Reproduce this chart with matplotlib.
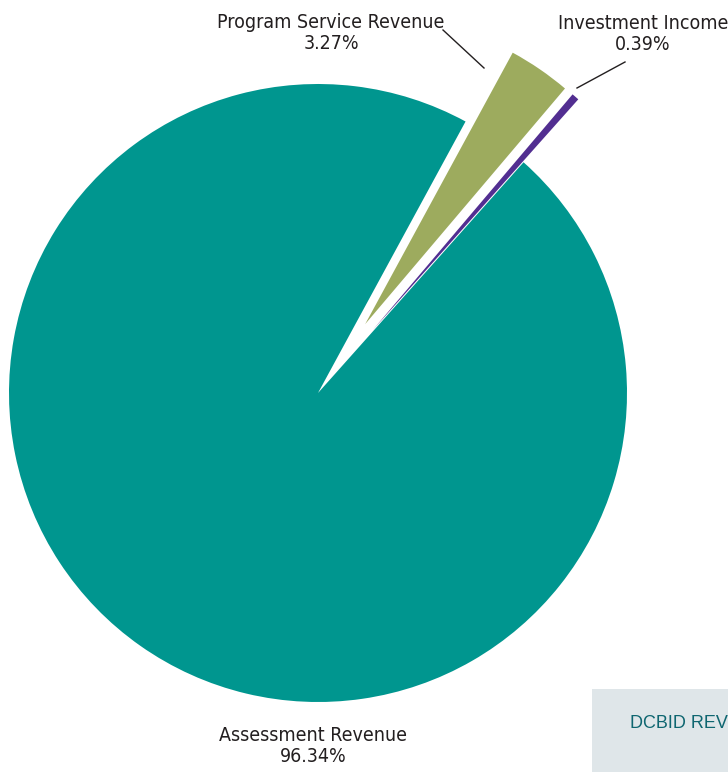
import matplotlib
matplotlib.use("Agg")
import matplotlib.pyplot as plt
from matplotlib.patches import Rectangle

# revenue shares (percent)
categories = ["Assessment Revenue", "Program Service Revenue", "Investment Income"]
shares = [96.34, 3.27, 0.39]
share_labels = ["96.34%", "3.27%", "0.39%"]
colors = ["#00968f", "#9dab5e", "#522e91"]

W, H = 728, 772
fig = plt.figure(figsize=(W / 100, H / 100), dpi=100)
ax = fig.add_axes([0, 0, 1, 1])

cx, cy, r = 318, H - 393, 309
# explode is in data units here (pixels)
explode = [0, 0.27 * r, 0.27 * r]
ax.pie(shares, colors=colors, explode=explode, startangle=48.3,
       counterclock=False, center=(cx, cy), radius=r, frame=True,
       wedgeprops=dict(linewidth=0))
ax.set_xlim(0, W)
ax.set_ylim(0, H)
ax.axis("off")

txt = "#231f20"
# label positions in pixels (x, y from top)
label_pos = [(313, 746), (331, 33), (643, 34)]
for name, pct, (lx, ly) in zip(categories, share_labels, label_pos):
    ax.text(lx, H - ly, name + "\n" + pct, ha="center", va="center",
            fontsize=14, family="DejaVu Sans", fontstretch="condensed",
            color=txt, linespacing=1.15)

# leader lines
ax.plot([443, 484], [H - 30, H - 68], color=txt, lw=1)
ax.plot([625, 577], [H - 62, H - 88], color=txt, lw=1)

# cut-off caption box at bottom right
ax.add_patch(Rectangle((592, 0), W - 592, H - 689, facecolor="#dfe6e9",
                       edgecolor="none"))
ax.text(630, H - 724, "DCBID REV", ha="left", va="center", fontsize=13,
        color="#0e6670", family=["Liberation Sans", "DejaVu Sans"])

fig.savefig("out.png", dpi=100)
